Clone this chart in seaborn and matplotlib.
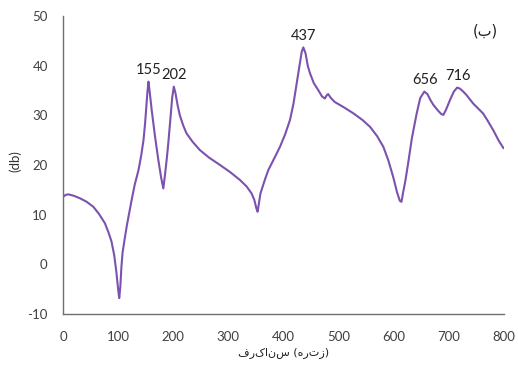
import matplotlib
matplotlib.use("Agg")
import matplotlib.pyplot as plt
import seaborn as sns
import pandas as pd

# ---- data ----
freq = [0, 5, 10, 20, 31, 43, 55, 65, 76, 83, 88, 93, 97, 100, 102, 104, 106, 108, 112,
        115.5, 120, 124.6, 130, 137, 142, 146, 149, 151, 153, 155, 157, 161, 167, 173,
        178, 182, 185, 188, 191, 195, 198, 201, 204, 208, 212, 218, 224, 235, 248.5,
        265, 285, 303, 321, 333, 342, 347, 351, 353, 355, 358, 362, 367, 372.5, 383,
        393.7, 403, 411.8, 418, 424, 429, 433, 436, 440, 444, 448, 455, 463, 470, 475,
        478, 481, 486, 493, 510, 527, 543, 557, 570, 581, 590, 599, 606, 611, 614, 617,
        621, 626, 633, 641.6, 648, 655.5, 661, 667, 672, 680, 686, 690, 695, 702, 709,
        715, 720, 726, 732, 744, 753, 762, 770, 780.6, 790, 799]
db = [13.6, 14.0, 14.1, 13.8, 13.3, 12.6, 11.6, 10.2, 8.3, 6.3, 4.6, 1.8, -1.7, -5.0,
      -6.8, -4.5, -0.5, 2.3, 5.2, 7.6, 10.3, 13.0, 16.0, 19.0, 22.0, 25.0, 28.5, 31.5,
      34.5, 36.8, 35.0, 31.0, 25.7, 21.0, 17.5, 15.3, 18.0, 21.0, 24.4, 29.5, 33.5,
      35.8, 34.5, 32.0, 30.0, 28.0, 26.4, 24.7, 23.0, 21.5, 20.0, 18.6, 17.0, 15.7,
      14.3, 13.0, 11.2, 10.6, 12.0, 14.2, 15.6, 17.3, 19.0, 21.3, 23.7, 26.2, 29.1,
      32.3, 36.5, 40.0, 42.8, 43.7, 42.5, 40.0, 38.5, 36.5, 35.1, 33.8, 33.4, 34.0,
      34.3, 33.5, 32.7, 31.6, 30.4, 29.1, 27.7, 25.8, 23.7, 21.0, 17.6, 14.5, 12.8,
      12.6, 14.5, 16.8, 20.3, 25.5, 30.4, 33.5, 34.8, 34.3, 33.0, 32.1, 31.0, 30.3,
      30.1, 31.2, 33.1, 34.8, 35.6, 35.4, 34.8, 34.1, 32.4, 31.4, 30.4, 29.0, 27.0,
      25.0, 23.4]
peak_freq = [155, 202, 437, 656, 716]
peak_db = [36.8, 35.8, 43.7, 34.8, 35.6]
peak_labels = ["155", "202", "437", "656", "716"]
x_ticks = [0, 100, 200, 300, 400, 500, 600, 700, 800]
y_ticks = [-10, 0, 10, 20, 30, 40, 50]
x_label = "فرکانس (هرتز)"
y_label = "(db)"
panel_label = "(ب)"

sns.set_theme(style="white")
plt.rcParams["font.family"] = ["Lato", "DejaVu Sans"]

df = pd.DataFrame({"freq": freq, "db": db})

fig = plt.figure(figsize=(5.18, 3.66), dpi=100)
ax = fig.add_axes([0.1216, 0.142, 0.8514, 0.814])

sns.lineplot(data=df, x="freq", y="db", ax=ax, color="#7B52AE", linewidth=1.5)

ax.set_xlim(0, 800)
ax.set_ylim(-10, 50)
ax.set_xticks(x_ticks)
ax.set_yticks(y_ticks)
ax.set_xticklabels([str(v) for v in x_ticks])
ax.set_yticklabels([str(v) for v in y_ticks])

for s in ["top", "right"]:
    ax.spines[s].set_visible(False)
for s in ["left", "bottom"]:
    ax.spines[s].set_color("#707070")
    ax.spines[s].set_linewidth(1.0)

ax.tick_params(axis="both", direction="in", length=3.5, width=0.8, color="#909090",
               labelsize=9.5, labelcolor="#404040")
ax.tick_params(axis="x", pad=12.5)
ax.tick_params(axis="y", pad=11)

for xf, yd, lab in zip(peak_freq, peak_db, peak_labels):
    ax.annotate(lab, xy=(xf, yd), xytext=(0, 3), textcoords="offset points",
                ha="center", va="bottom", fontsize=10.5, color="#202020")

ax.set_xlabel("")
ax.set_ylabel("")
fig.text(0.548, 0.036, x_label, ha="center", va="center", fontsize=8,
         color="#202020", family=["DejaVu Sans"])
fig.text(0.029, 0.56, y_label, ha="center", va="center", rotation=90, fontsize=9.5,
         color="#303030")
fig.text(0.936, 0.915, panel_label, ha="center", va="center", fontsize=10.5,
         color="#202020", family=["DejaVu Sans"])

fig.savefig("out.png", dpi=100)
